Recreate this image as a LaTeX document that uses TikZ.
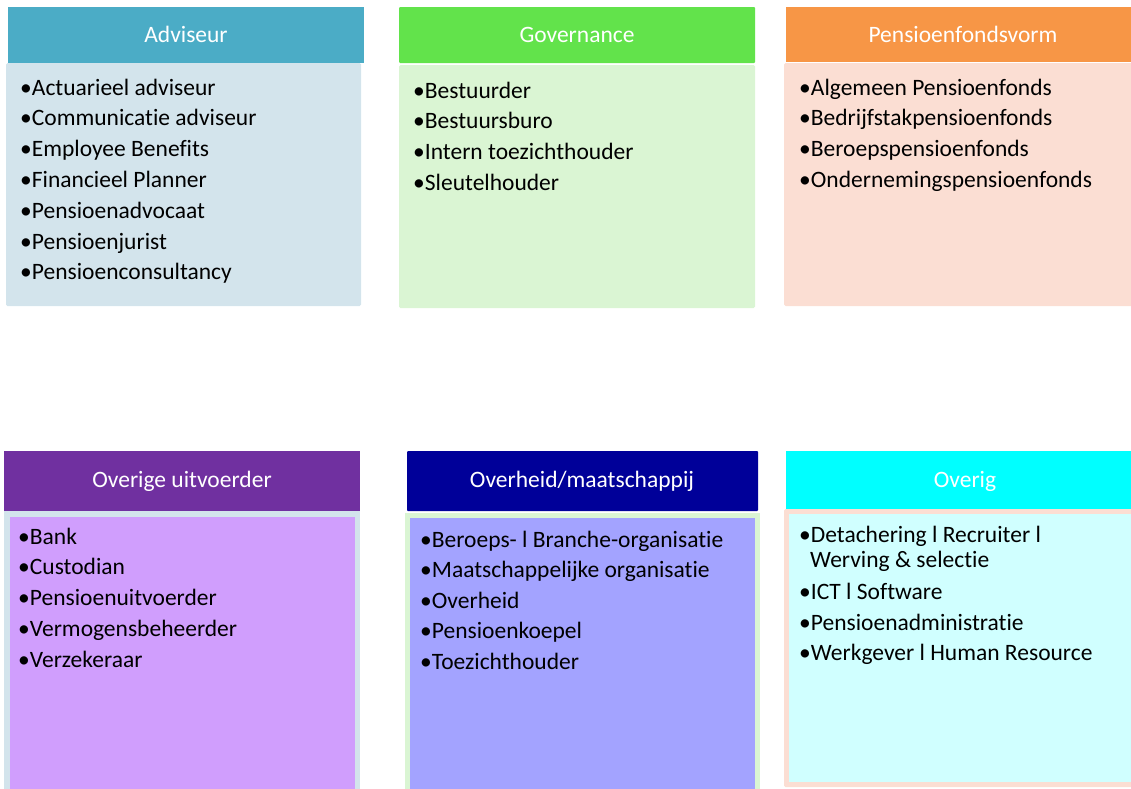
\documentclass[tikz,border=0pt]{standalone}
\usepackage{fontspec}
\setmainfont{Carlito}[Ligatures={NoCommon}]
\definecolor{hAdv}{HTML}{4BACC6}
\definecolor{bAdv}{HTML}{D3E4EC}
\definecolor{hGov}{HTML}{62E34B}
\definecolor{bGov}{HTML}{DAF5D3}
\definecolor{hPen}{HTML}{F79646}
\definecolor{bPen}{HTML}{FBDED3}
\definecolor{hOvu}{HTML}{7030A0}
\definecolor{bOvu}{HTML}{D09EFD}
\definecolor{hOvh}{HTML}{000099}
\definecolor{bOvh}{HTML}{A3A3FF}
\definecolor{hOvr}{HTML}{00FFFF}
\definecolor{bOvr}{HTML}{D0FFFF}
\tikzset{
  hdrtxt/.style={text=white,font=\fontsize{23.5}{27}\selectfont,inner sep=0pt,anchor=base},
  itemtxt/.style={text=black,font=\fontsize{23.5}{27}\selectfont,inner sep=0pt,anchor=base west},
}
\begin{document}
\begin{tikzpicture}[x=1pt,y=-1pt]
\useasboundingbox (0,0) rectangle (1131,788);
% ---------- top row ----------
% Adviseur
\fill[bAdv,rounded corners=1.5pt] (6,63) rectangle (361,306);
\fill[hAdv] (8,7) rectangle (364,63);
\node[hdrtxt] (hadv) at (186,42) {Adviseur};
\foreach \t [count=\i] in {Actuarieel adviseur,Communicatie adviseur,Employee Benefits,Financieel Planner,Pensioenadvocaat,Pensioenjurist,Pensioenconsultancy}
  \node[itemtxt] (adv\i) at (20,{95+30.8*(\i-1)}) {•\t};
% Governance
\fill[bGov,rounded corners=1.5pt] (399,65) rectangle (755,308);
\fill[hGov,rounded corners=1pt] (399,7) rectangle (755,63);
\node[hdrtxt] (hgov) at (577,42) {Governance};
\foreach \t [count=\i] in {Bestuurder,Bestuursburo,Intern toezichthouder,Sleutelhouder}
  \node[itemtxt] (gov\i) at (413,{98+30.7*(\i-1)}) {•\t};
% Pensioenfondsvorm
\fill[bPen,rounded corners=1.5pt] (784,63) rectangle (1133,306);
\fill[hPen] (786,7) rectangle (1131,62);
\node[hdrtxt] (hpen) at (963,42) {Pensioenfondsvorm};
\foreach \t [count=\i] in {Algemeen Pensioenfonds,Bedrijfstakpensioenfonds,Beroepspensioenfonds,Ondernemingspensioenfonds}
  \node[itemtxt] (pen\i) at (799,{95+30.8*(\i-1)}) {•\t};
% ---------- bottom row ----------
% Overige uitvoerder
\fill[bAdv] (4,511) rectangle (360,790);
\fill[bOvu] (10,517) rectangle (355,790);
\fill[hOvu] (4,451) rectangle (360,511);
\node[hdrtxt] (hovu) at (182,487) {Overige uitvoerder};
\foreach \t [count=\i] in {Bank,Custodian,Pensioenuitvoerder,Vermogensbeheerder,Verzekeraar}
  \node[itemtxt] (ovu\i) at (18,{544+30.8*(\i-1)}) {•\t};
% Overheid/maatschappij
\fill[bGov] (405,513) rectangle (760,790);
\fill[bOvh] (410,518) rectangle (755,790);
\fill[hOvh,rounded corners=1pt] (407,451) rectangle (758,511);
\node[hdrtxt] (hovh) at (582,487) {Overheid/maatschappij};
\foreach \t [count=\i] in {Beroeps- l Branche-organisatie,Maatschappelijke organisatie,Overheid,Pensioenkoepel,Toezichthouder}
  \node[itemtxt] (ovh\i) at (420,{547+30.6*(\i-1)}) {•\t};
% Overig
\fill[bPen,rounded corners=1.5pt] (784,509) rectangle (1133,787);
\fill[bOvr] (789,514) rectangle (1133,782);
\fill[hOvr] (786,451) rectangle (1131,509);
\node[hdrtxt] (hovr) at (965,487) {Overig};
\node[itemtxt] (ovr1) at (799,542) {•Detachering l Recruiter l};
\node[itemtxt] (ovr1b) at (810,567) {Werving \& selectie};
\node[itemtxt] (ovr2) at (799,599) {•ICT l Software};
\node[itemtxt] (ovr3) at (799,630) {•Pensioenadministratie};
\node[itemtxt] (ovr4) at (799,660) {•Werkgever l Human Resource};
\end{tikzpicture}
\end{document}
